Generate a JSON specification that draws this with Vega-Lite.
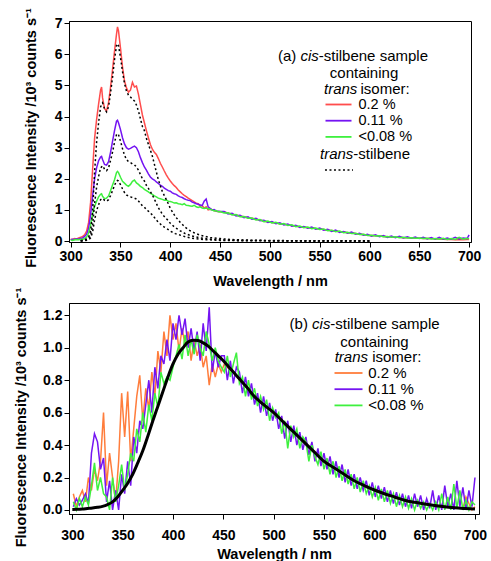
{
"$schema": "https://vega.github.io/schema/vega-lite/v6.json",
"background": "white",
"padding": {"left": 13, "top": 7, "right": 0, "bottom": 0},
"spacing": -2,
"config": {
 "view": {"stroke": "black", "strokeWidth": 1},
 "font": "Liberation Sans",
 "axis": {"labelFont": "Liberation Sans", "labelFontSize": 14, "labelFontWeight": "bold", "labelColor": "black", "titleFont": "Liberation Sans", "titleFontSize": 14.5, "titleFontWeight": "bold", "titleColor": "black", "domainColor": "black", "tickColor": "black", "tickSize": 5, "grid": false, "labelPadding": 2, "labelOverlap": false},
 "axisY": {"tickCount": 8},
 "text": {"font": "Liberation Sans", "color": "black", "baseline": "middle", "align": "left"}
},
"resolve": {"scale": {"color": "independent"}, "legend": {"color": "independent"}},
"datasets": {
 "tc": [
{"w":300,"r":0.06,"p":0.04,"g":0.03},{"w":302,"r":0.05,"p":0.06,"g":0.02},{"w":304,"r":0.08,"p":0.05,"g":0.04},{"w":306,"r":0.07,"p":0.07,"g":0.05},{"w":308,"r":0.1,"p":0.06,"g":0.04},{"w":310,"r":0.12,"p":0.09,"g":0.06},{"w":312,"r":0.15,"p":0.1,"g":0.05},{"w":314,"r":0.2,"p":0.15,"g":0.09},{"w":316,"r":0.32,"p":0.22,"g":0.13},{"w":318,"r":0.6,"p":0.42,"g":0.26},{"w":320,"r":1.25,"p":0.85,"g":0.52},{"w":322,"r":2.3,"p":1.45,"g":0.88},{"w":324,"r":3.3,"p":2.0,"g":1.12},{"w":326,"r":3.9,"p":2.35,"g":1.28},{"w":328,"r":4.4,"p":2.58,"g":1.42},{"w":330,"r":4.85,"p":2.7,"g":1.5},{"w":331,"r":4.95,"p":2.72,"g":1.52},{"w":332,"r":4.6,"p":2.62,"g":1.44},{"w":334,"r":4.25,"p":2.46,"g":1.36},{"w":336,"r":4.18,"p":2.44,"g":1.38},{"w":338,"r":4.45,"p":2.55,"g":1.45},{"w":340,"r":4.95,"p":2.85,"g":1.62},{"w":342,"r":5.5,"p":3.2,"g":1.8},{"w":344,"r":6.1,"p":3.55,"g":1.97},{"w":346,"r":6.65,"p":3.85,"g":2.2},{"w":347,"r":6.88,"p":3.88,"g":2.24},{"w":348,"r":6.75,"p":3.8,"g":2.2},{"w":350,"r":6.2,"p":3.58,"g":2.05},{"w":352,"r":5.6,"p":3.32,"g":1.92},{"w":354,"r":5.15,"p":3.12,"g":1.86},{"w":356,"r":4.92,"p":3.0,"g":1.8},{"w":358,"r":4.78,"p":2.95,"g":1.76},{"w":360,"r":4.85,"p":2.98,"g":1.82},{"w":362,"r":5.1,"p":3.02,"g":1.92},{"w":364,"r":4.95,"p":3.05,"g":1.96},{"w":366,"r":4.98,"p":3.0,"g":1.87},{"w":368,"r":4.72,"p":2.87,"g":1.82},{"w":370,"r":4.38,"p":2.68,"g":1.76},{"w":372,"r":4.05,"p":2.52,"g":1.72},{"w":374,"r":3.8,"p":2.38,"g":1.66},{"w":376,"r":3.55,"p":2.28,"g":1.62},{"w":378,"r":3.32,"p":2.16,"g":1.58},{"w":380,"r":3.1,"p":2.06,"g":1.53},{"w":382,"r":2.95,"p":2.0,"g":1.5},{"w":384,"r":2.85,"p":1.96,"g":1.45},{"w":386,"r":2.78,"p":1.9,"g":1.42},{"w":388,"r":2.65,"p":1.85,"g":1.38},{"w":390,"r":2.5,"p":1.8,"g":1.36},{"w":392,"r":2.38,"p":1.76,"g":1.34},{"w":394,"r":2.25,"p":1.7,"g":1.31},{"w":396,"r":2.13,"p":1.66,"g":1.32},{"w":398,"r":2.02,"p":1.62,"g":1.28},{"w":400,"r":1.93,"p":1.6,"g":1.27},{"w":402,"r":1.85,"p":1.55,"g":1.25},{"w":404,"r":1.78,"p":1.52,"g":1.22},{"w":406,"r":1.72,"p":1.5,"g":1.23},{"w":408,"r":1.64,"p":1.45,"g":1.2},{"w":410,"r":1.58,"p":1.42,"g":1.19},{"w":412,"r":1.52,"p":1.4,"g":1.17},{"w":414,"r":1.47,"p":1.36,"g":1.2},{"w":416,"r":1.43,"p":1.33,"g":1.15},{"w":418,"r":1.38,"p":1.31,"g":1.14},{"w":420,"r":1.34,"p":1.3,"g":1.13},{"w":422,"r":1.3,"p":1.25,"g":1.12},{"w":424,"r":1.26,"p":1.23,"g":1.15},{"w":426,"r":1.22,"p":1.2,"g":1.1},{"w":428,"r":1.2,"p":1.18,"g":1.08},{"w":430,"r":1.12,"p":1.16,"g":1.1},{"w":432,"r":1.14,"p":1.14,"g":1.06},{"w":434,"r":1.06,"p":1.28,"g":1.05},{"w":436,"r":1.1,"p":1.35,"g":1.06},{"w":438,"r":1.0,"p":1.1,"g":1.04},{"w":440,"r":1.02,"p":1.05,"g":1.02},{"w":442,"r":1.01,"p":1.0,"g":1.0},{"w":444,"r":0.98,"p":1.01,"g":0.97},{"w":446,"r":0.96,"p":0.97,"g":0.98},{"w":448,"r":0.95,"p":0.96,"g":0.94},{"w":450,"r":0.94,"p":0.95,"g":0.95},
{"w":454,"r":0.93,"p":0.95,"g":0.9},{"w":458,"r":0.9,"p":0.87,"g":0.91},{"w":462,"r":0.86,"p":0.89,"g":0.84},{"w":466,"r":0.84,"p":0.81,"g":0.85},{"w":470,"r":0.8,"p":0.83,"g":0.78},{"w":474,"r":0.78,"p":0.75,"g":0.79},{"w":478,"r":0.75,"p":0.78,"g":0.73},{"w":482,"r":0.73,"p":0.7,"g":0.74},{"w":486,"r":0.7,"p":0.73,"g":0.68},{"w":490,"r":0.68,"p":0.65,"g":0.69},{"w":494,"r":0.64,"p":0.67,"g":0.62},{"w":498,"r":0.62,"p":0.6,"g":0.64},{"w":502,"r":0.6,"p":0.63,"g":0.58},{"w":506,"r":0.58,"p":0.56,"g":0.6},{"w":510,"r":0.56,"p":0.59,"g":0.54},{"w":514,"r":0.54,"p":0.52,"g":0.56},{"w":518,"r":0.52,"p":0.55,"g":0.5},{"w":522,"r":0.5,"p":0.48,"g":0.52},{"w":526,"r":0.48,"p":0.51,"g":0.46},{"w":530,"r":0.46,"p":0.44,"g":0.48},{"w":534,"r":0.45,"p":0.47,"g":0.43},{"w":538,"r":0.43,"p":0.41,"g":0.45},{"w":542,"r":0.42,"p":0.45,"g":0.4},{"w":546,"r":0.4,"p":0.38,"g":0.42},{"w":550,"r":0.39,"p":0.42,"g":0.37},{"w":554,"r":0.37,"p":0.35,"g":0.39},{"w":558,"r":0.35,"p":0.38,"g":0.33},{"w":562,"r":0.34,"p":0.31,"g":0.35},{"w":566,"r":0.32,"p":0.35,"g":0.3},{"w":570,"r":0.3,"p":0.28,"g":0.32},{"w":574,"r":0.29,"p":0.31,"g":0.27},{"w":578,"r":0.27,"p":0.25,"g":0.28},{"w":582,"r":0.26,"p":0.29,"g":0.24},{"w":586,"r":0.24,"p":0.22,"g":0.25},{"w":590,"r":0.22,"p":0.25,"g":0.21},{"w":594,"r":0.21,"p":0.19,"g":0.22},{"w":598,"r":0.19,"p":0.22,"g":0.18},{"w":602,"r":0.18,"p":0.16,"g":0.19},{"w":606,"r":0.17,"p":0.2,"g":0.16},{"w":610,"r":0.16,"p":0.14,"g":0.17},{"w":614,"r":0.15,"p":0.18,"g":0.14},{"w":618,"r":0.14,"p":0.12,"g":0.15},{"w":622,"r":0.13,"p":0.16,"g":0.12},{"w":626,"r":0.12,"p":0.11,"g":0.14},{"w":630,"r":0.12,"p":0.15,"g":0.11},{"w":634,"r":0.11,"p":0.1,"g":0.12},{"w":638,"r":0.11,"p":0.14,"g":0.1},{"w":642,"r":0.1,"p":0.09,"g":0.11},{"w":646,"r":0.1,"p":0.13,"g":0.09},{"w":650,"r":0.09,"p":0.08,"g":0.1},{"w":654,"r":0.08,"p":0.12,"g":0.08},{"w":658,"r":0.08,"p":0.07,"g":0.09},{"w":662,"r":0.08,"p":0.11,"g":0.07},{"w":666,"r":0.07,"p":0.06,"g":0.08},{"w":670,"r":0.07,"p":0.12,"g":0.06},{"w":674,"r":0.06,"p":0.06,"g":0.09},{"w":678,"r":0.05,"p":0.1,"g":0.05},{"w":682,"r":0.05,"p":0.06,"g":0.08},{"w":686,"r":0.04,"p":0.12,"g":0.05},{"w":690,"r":0.05,"p":0.07,"g":0.12},{"w":694,"r":0.04,"p":0.1,"g":0.06},{"w":698,"r":0.05,"p":0.08,"g":0.09},{"w":700,"r":0.05,"p":0.2,"g":0.07}
 ],
 "td": [
{"w":310,"a":0.01,"b":0.01,"c":0.0},{"w":314,"a":0.03,"b":0.02,"c":0.01},{"w":318,"a":0.13,"b":0.07,"c":0.04},{"w":320,"a":0.32,"b":0.17,"c":0.1},{"w":322,"a":0.95,"b":0.52,"c":0.29},{"w":324,"a":2.22,"b":1.21,"c":0.68},{"w":326,"a":3.17,"b":1.73,"c":0.98},{"w":328,"a":3.8,"b":2.07,"c":1.17},{"w":330,"a":4.31,"b":2.35,"c":1.33},{"w":332,"a":4.44,"b":2.42,"c":1.37},{"w":334,"a":4.25,"b":2.31,"c":1.31},{"w":336,"a":4.15,"b":2.26,"c":1.28},{"w":338,"a":4.31,"b":2.35,"c":1.33},{"w":340,"a":4.76,"b":2.59,"c":1.46},{"w":342,"a":5.26,"b":2.86,"c":1.62},{"w":344,"a":5.83,"b":3.17,"c":1.79},{"w":346,"a":6.28,"b":3.42,"c":1.93},{"w":347,"a":6.34,"b":3.45,"c":1.95},{"w":348,"a":6.28,"b":3.42,"c":1.93},{"w":350,"a":5.9,"b":3.21,"c":1.81},{"w":352,"a":5.45,"b":2.97,"c":1.68},{"w":354,"a":5.07,"b":2.76,"c":1.56},{"w":356,"a":4.82,"b":2.62,"c":1.48},{"w":358,"a":4.69,"b":2.55,"c":1.44},{"w":360,"a":4.63,"b":2.52,"c":1.42},{"w":362,"a":4.56,"b":2.48,"c":1.4},{"w":364,"a":4.5,"b":2.45,"c":1.38},{"w":366,"a":4.37,"b":2.38,"c":1.35},{"w":368,"a":4.18,"b":2.28,"c":1.29},{"w":370,"a":3.93,"b":2.14,"c":1.21},{"w":372,"a":3.68,"b":2.0,"c":1.13},{"w":374,"a":3.55,"b":1.93,"c":1.09},{"w":376,"a":3.3,"b":1.79,"c":1.01},{"w":378,"a":3.11,"b":1.69,"c":0.96},{"w":380,"a":2.92,"b":1.59,"c":0.9},{"w":382,"a":2.73,"b":1.48,"c":0.84},{"w":384,"a":2.47,"b":1.35,"c":0.76},{"w":386,"a":2.22,"b":1.21,"c":0.68},{"w":388,"a":1.97,"b":1.07,"c":0.6},{"w":390,"a":1.78,"b":0.97,"c":0.55},{"w":392,"a":1.59,"b":0.86,"c":0.49},{"w":394,"a":1.46,"b":0.79,"c":0.45},{"w":396,"a":1.33,"b":0.72,"c":0.41},{"w":398,"a":1.2,"b":0.66,"c":0.37},{"w":400,"a":1.05,"b":0.57,"c":0.32},{"w":405,"a":0.79,"b":0.43,"c":0.24},{"w":410,"a":0.6,"b":0.33,"c":0.19},{"w":415,"a":0.44,"b":0.24,"c":0.14},{"w":420,"a":0.33,"b":0.18,"c":0.1},{"w":425,"a":0.25,"b":0.14,"c":0.08},{"w":430,"a":0.19,"b":0.1,"c":0.06},{"w":435,"a":0.15,"b":0.08,"c":0.04},{"w":440,"a":0.11,"b":0.06,"c":0.04},{"w":450,"a":0.08,"b":0.04,"c":0.02},{"w":460,"a":0.05,"b":0.03,"c":0.016},{"w":470,"a":0.04,"b":0.02,"c":0.012},{"w":480,"a":0.03,"b":0.02,"c":0.01},{"w":500,"a":0.02,"b":0.01,"c":0.006},{"w":520,"a":0.013,"b":0.007,"c":0.004},{"w":550,"a":0.01,"b":0.005,"c":0.004},{"w":600,"a":0.006,"b":0.003,"c":0.002}
 ],
 "bc": [
{"w":301,"o":0.1,"p":0.02,"g":0.05},{"w":304,"o":0.02,"p":0.07,"g":0.0},{"w":307,"o":0.08,"p":0.03,"g":0.07},{"w":310,"o":0.12,"p":0.06,"g":0.02},{"w":313,"o":0.05,"p":0.1,"g":0.08},{"w":316,"o":0.2,"p":0.04,"g":0.03},{"w":319,"o":0.12,"p":0.35,"g":0.15},{"w":322,"o":0.25,"p":0.47,"g":0.29},{"w":325,"o":0.18,"p":0.42,"g":0.12},{"w":328,"o":0.3,"p":0.25,"g":0.2},{"w":331,"o":0.6,"p":0.32,"g":0.1},{"w":334,"o":0.15,"p":0.05,"g":0.08},{"w":337,"o":0.35,"p":0.18,"g":0.0},{"w":340,"o":0.2,"p":0.0,"g":0.2},{"w":343,"o":0.05,"p":0.12,"g":0.05},{"w":346,"o":0.3,"p":0.0,"g":0.15},{"w":349,"o":0.72,"p":0.22,"g":0.28},{"w":352,"o":0.45,"p":0.1,"g":0.12},{"w":355,"o":0.73,"p":0.3,"g":0.22},{"w":358,"o":0.3,"p":0.15,"g":0.35},{"w":361,"o":0.5,"p":0.45,"g":0.3},{"w":364,"o":0.7,"p":0.35,"g":0.5},{"w":367,"o":0.83,"p":0.55,"g":0.42},{"w":370,"o":0.55,"p":0.5,"g":0.6},{"w":373,"o":0.75,"p":0.65,"g":0.48},{"w":376,"o":0.62,"p":0.8,"g":0.65},{"w":379,"o":0.85,"p":0.6,"g":0.55},{"w":382,"o":0.7,"p":0.88,"g":0.72},{"w":385,"o":0.98,"p":0.75,"g":0.63},{"w":388,"o":0.85,"p":0.95,"g":0.85},{"w":391,"o":1.1,"p":0.9,"g":0.78},{"w":394,"o":0.95,"p":1.05,"g":0.82},{"w":397,"o":1.2,"p":0.92,"g":0.8},{"w":400,"o":1.05,"p":1.15,"g":0.88},{"w":403,"o":1.15,"p":1.05,"g":0.95},{"w":406,"o":0.98,"p":1.2,"g":1.02},{"w":409,"o":1.12,"p":1.08,"g":0.93},{"w":412,"o":1.02,"p":1.18,"g":1.08},{"w":415,"o":1.1,"p":1.0,"g":0.95},{"w":418,"o":0.92,"p":1.12,"g":1.05},{"w":421,"o":1.05,"p":0.98,"g":0.96},{"w":424,"o":0.95,"p":1.1,"g":1.08},{"w":427,"o":1.02,"p":0.92,"g":1.0},{"w":430,"o":0.88,"p":1.15,"g":0.95},{"w":433,"o":0.95,"p":0.98,"g":1.1},{"w":436,"o":0.77,"p":1.25,"g":1.02},{"w":439,"o":0.9,"p":0.85,"g":0.92},{"w":442,"o":0.82,"p":0.98,"g":1.0},{"w":445,"o":0.9,"p":0.88,"g":0.92},{"w":448,"o":0.85,"p":0.95,"g":0.88},
{"w":451,"o":0.9,"p":0.95,"g":0.85},{"w":454,"o":0.88,"p":0.8,"g":0.95},{"w":457,"o":0.86,"p":0.92,"g":0.82},{"w":460,"o":0.85,"p":0.78,"g":0.9},{"w":463,"o":0.83,"p":0.88,"g":0.97},{"w":466,"o":0.8,"p":0.85,"g":0.78},{"w":469,"o":0.79,"p":0.72,"g":0.82},{"w":472,"o":0.76,"p":0.82,"g":0.7},{"w":475,"o":0.74,"p":0.7,"g":0.8},{"w":478,"o":0.72,"p":0.78,"g":0.68},{"w":481,"o":0.7,"p":0.65,"g":0.75},{"w":484,"o":0.68,"p":0.72,"g":0.64},{"w":487,"o":0.67,"p":0.6,"g":0.7},{"w":490,"o":0.65,"p":0.7,"g":0.62},{"w":493,"o":0.63,"p":0.58,"g":0.68},{"w":496,"o":0.62,"p":0.66,"g":0.55},{"w":499,"o":0.6,"p":0.55,"g":0.63},{"w":502,"o":0.59,"p":0.62,"g":0.57},{"w":505,"o":0.57,"p":0.5,"g":0.6},{"w":508,"o":0.55,"p":0.58,"g":0.47},{"w":511,"o":0.53,"p":0.44,"g":0.55},{"w":514,"o":0.52,"p":0.55,"g":0.38},{"w":517,"o":0.5,"p":0.42,"g":0.52},{"w":520,"o":0.48,"p":0.52,"g":0.45},{"w":523,"o":0.46,"p":0.4,"g":0.5},{"w":526,"o":0.44,"p":0.48,"g":0.38},{"w":529,"o":0.43,"p":0.37,"g":0.45},{"w":532,"o":0.41,"p":0.45,"g":0.42},{"w":535,"o":0.39,"p":0.34,"g":0.3},{"w":538,"o":0.37,"p":0.42,"g":0.4},{"w":541,"o":0.36,"p":0.3,"g":0.33},{"w":544,"o":0.34,"p":0.38,"g":0.28},{"w":547,"o":0.32,"p":0.27,"g":0.36},{"w":550,"o":0.3,"p":0.35,"g":0.25},{"w":553,"o":0.29,"p":0.25,"g":0.32},{"w":556,"o":0.28,"p":0.33,"g":0.22},{"w":559,"o":0.26,"p":0.22,"g":0.3},{"w":562,"o":0.25,"p":0.3,"g":0.2},{"w":565,"o":0.24,"p":0.2,"g":0.27},{"w":568,"o":0.23,"p":0.28,"g":0.18},{"w":571,"o":0.22,"p":0.17,"g":0.25},{"w":574,"o":0.2,"p":0.25,"g":0.16},{"w":577,"o":0.19,"p":0.15,"g":0.22},{"w":580,"o":0.18,"p":0.22,"g":0.13},{"w":583,"o":0.17,"p":0.13,"g":0.2},{"w":586,"o":0.16,"p":0.2,"g":0.11},{"w":589,"o":0.15,"p":0.12,"g":0.18},{"w":592,"o":0.14,"p":0.18,"g":0.1},{"w":595,"o":0.13,"p":0.09,"g":0.15},{"w":598,"o":0.13,"p":0.17,"g":0.08},{"w":601,"o":0.12,"p":0.08,"g":0.14},{"w":604,"o":0.11,"p":0.15,"g":0.06},{"w":607,"o":0.1,"p":0.07,"g":0.13},{"w":610,"o":0.1,"p":0.14,"g":0.05},{"w":613,"o":0.09,"p":0.05,"g":0.12},{"w":616,"o":0.09,"p":0.12,"g":0.04},{"w":619,"o":0.08,"p":0.04,"g":0.1},{"w":622,"o":0.07,"p":0.11,"g":0.02},{"w":625,"o":0.07,"p":0.03,"g":0.09},{"w":628,"o":0.06,"p":0.1,"g":0.02},{"w":631,"o":0.06,"p":0.02,"g":0.08},{"w":634,"o":0.05,"p":0.09,"g":0.01},{"w":637,"o":0.05,"p":0.01,"g":0.07},{"w":640,"o":0.05,"p":0.1,"g":0.0},{"w":643,"o":0.04,"p":0.02,"g":0.06},{"w":646,"o":0.04,"p":0.09,"g":0.01},{"w":649,"o":0.04,"p":0.0,"g":0.05},{"w":652,"o":0.04,"p":0.07,"g":0.0},{"w":655,"o":0.03,"p":0.01,"g":0.04},{"w":658,"o":0.03,"p":0.12,"g":0.0},{"w":661,"o":0.03,"p":0.0,"g":0.05},{"w":664,"o":0.02,"p":0.09,"g":0.0},{"w":667,"o":0.02,"p":0.0,"g":0.1},{"w":670,"o":0.02,"p":0.15,"g":0.0},{"w":673,"o":0.02,"p":0.02,"g":0.08},{"w":676,"o":0.02,"p":0.1,"g":0.0},{"w":679,"o":0.01,"p":0.0,"g":0.16},{"w":682,"o":0.01,"p":0.18,"g":0.01},{"w":685,"o":0.01,"p":0.02,"g":0.12},{"w":688,"o":0.01,"p":0.14,"g":0.0},{"w":691,"o":0.08,"p":0.0,"g":0.06},{"w":694,"o":0.04,"p":0.12,"g":0.0},{"w":697,"o":0.0,"p":0.02,"g":0.05},{"w":700,"o":0.02,"p":0.2,"g":0.03}
 ],
 "bf": [
{"w":300,"f":0.003},{"w":305,"f":0.004},{"w":310,"f":0.006},{"w":315,"f":0.009},{"w":320,"f":0.012},{"w":325,"f":0.016},{"w":330,"f":0.022},{"w":335,"f":0.033},{"w":340,"f":0.05},{"w":345,"f":0.08},{"w":350,"f":0.12},{"w":355,"f":0.165},{"w":360,"f":0.22},{"w":365,"f":0.29},{"w":370,"f":0.365},{"w":375,"f":0.455},{"w":380,"f":0.55},{"w":385,"f":0.64},{"w":390,"f":0.73},{"w":395,"f":0.82},{"w":400,"f":0.9},{"w":405,"f":0.96},{"w":410,"f":1.0},{"w":415,"f":1.035},{"w":420,"f":1.046},{"w":425,"f":1.045},{"w":430,"f":1.03},{"w":435,"f":1.01},{"w":440,"f":0.98},{"w":445,"f":0.95},{"w":450,"f":0.92},{"w":455,"f":0.885},{"w":460,"f":0.85},{"w":465,"f":0.815},{"w":470,"f":0.78},{"w":475,"f":0.745},{"w":480,"f":0.705},{"w":485,"f":0.675},{"w":490,"f":0.65},{"w":495,"f":0.625},{"w":500,"f":0.6},{"w":510,"f":0.54},{"w":520,"f":0.48},{"w":530,"f":0.42},{"w":540,"f":0.36},{"w":550,"f":0.3},{"w":560,"f":0.26},{"w":570,"f":0.22},{"w":580,"f":0.18},{"w":590,"f":0.15},{"w":600,"f":0.123},{"w":610,"f":0.1},{"w":620,"f":0.08},{"w":630,"f":0.06},{"w":640,"f":0.047},{"w":650,"f":0.037},{"w":660,"f":0.028},{"w":670,"f":0.02},{"w":680,"f":0.013},{"w":690,"f":0.009},{"w":700,"f":0.006}
 ]
},
"vconcat": [
 {
  "width": 402, "height": 221,
  "layer": [
   {"data": {"name": "tc"}, "transform": [{"fold": ["r","p","g"], "as": ["s","v"]}],
    "mark": {"type": "line", "strokeWidth": 1.5},
    "encoding": {
     "x": {"field": "w", "type": "quantitative", "scale": {"domain": [298.3, 701.9], "nice": false, "zero": false},
       "axis": {"values": [300,350,400,450,500,550,600,650,700], "title": "Wavelength / nm", "titlePadding": 11, "labelPadding": 2}},
     "y": {"field": "v", "type": "quantitative", "scale": {"domain": [-0.03, 7.07], "nice": false, "zero": false},
       "axis": {"values": [0,1,2,3,4,5,6,7], "format": "d", "title": "Fluorescence Intensity /10³ counts s⁻¹", "titlePadding": 16, "titleY": 116.5}},
     "color": {"field": "s", "type": "nominal", "scale": {"domain": ["r","p","g"], "range": ["#ff4d4d","#7414f2","#3ef03e"]},
       "legend": {"orient": "none", "legendX": 262, "legendY": 76, "title": null, "symbolType": "M-2,0H2", "symbolSize": 169, "symbolStrokeWidth": 1.8, "labelFont": "Liberation Sans", "labelFontSize": 14.5, "labelColor": "black", "labelOffset": 12.5, "rowPadding": 1.2, "padding": 0,
         "labelExpr": "datum.label == 'r' ? '0.2 %' : datum.label == 'p' ? '0.11 %' : '<0.08 %'"}}
    }},
   {"data": {"name": "td"}, "transform": [{"fold": ["a","b","c"], "as": ["k","v"]}],
    "mark": {"type": "line", "color": "black", "strokeWidth": 1.5, "strokeDash": [2, 2.5]},
    "encoding": {"x": {"field": "w", "type": "quantitative"}, "y": {"field": "v", "type": "quantitative"}, "detail": {"field": "k", "type": "nominal"}}},
   {"data": {"values": [{}]}, "mark": {"type": "text", "text": "(a) ", "fontSize": 15}, "encoding": {"x": {"datum": 508.1}, "y": {"datum": 5.95}}},
   {"data": {"values": [{}]}, "mark": {"type": "text", "text": "cis", "fontSize": 15, "fontStyle": "italic", "dx": 22.5}, "encoding": {"x": {"datum": 508.1}, "y": {"datum": 5.95}}},
   {"data": {"values": [{}]}, "mark": {"type": "text", "text": "-stilbene sample", "fontSize": 15, "dx": 40.8}, "encoding": {"x": {"datum": 508.1}, "y": {"datum": 5.95}}},
   {"data": {"values": [{}]}, "mark": {"type": "text", "text": "containing", "fontSize": 15, "align": "center"}, "encoding": {"x": {"datum": 594.5}, "y": {"datum": 5.41}}},
   {"data": {"values": [{}]}, "mark": {"type": "text", "text": "trans", "fontSize": 15, "fontStyle": "italic"}, "encoding": {"x": {"datum": 554.3}, "y": {"datum": 4.89}}},
   {"data": {"values": [{}]}, "mark": {"type": "text", "text": "isomer:", "fontSize": 15, "dx": 36.5}, "encoding": {"x": {"datum": 554.3}, "y": {"datum": 4.89}}},
   {"data": {"values": [{}]}, "mark": {"type": "text", "text": "trans", "fontSize": 15, "fontStyle": "italic"}, "encoding": {"x": {"datum": 550.3}, "y": {"datum": 2.8}}},
   {"data": {"values": [{}]}, "mark": {"type": "text", "text": "-stilbene", "fontSize": 15, "dx": 33.3}, "encoding": {"x": {"datum": 550.3}, "y": {"datum": 2.8}}},
   {"data": {"values": [{}]}, "mark": {"type": "rule", "color": "black", "strokeWidth": 1.5, "strokeDash": [2, 2.5]}, "encoding": {"x": {"datum": 555.3}, "x2": {"datum": 583.4}, "y": {"datum": 2.28}}}
  ]
 },
 {
  "width": 410, "height": 211,
  "layer": [
   {"data": {"name": "bc"}, "transform": [{"fold": ["o","p","g"], "as": ["s","v"]}],
    "mark": {"type": "line", "strokeWidth": 1.5},
    "encoding": {
     "x": {"field": "w", "type": "quantitative", "scale": {"domain": [296.7, 704], "nice": false, "zero": false},
       "axis": {"values": [300,350,400,450,500,550,600,650,700], "title": "Wavelength / nm", "titlePadding": 5, "labelPadding": 9}},
     "y": {"field": "v", "type": "quantitative", "scale": {"domain": [-0.025, 1.276], "nice": false, "zero": false},
       "axis": {"values": [0,0.2,0.4,0.6,0.8,1.0,1.2], "format": ".1f", "title": "Fluorescence Intensity /10³ counts s⁻¹", "titlePadding": 14, "titleY": 114}},
     "color": {"field": "s", "type": "nominal", "scale": {"domain": ["o","p","g"], "range": ["#ff7d3c","#7414f2","#3ef03e"]},
       "legend": {"orient": "none", "legendX": 271.5, "legendY": 62, "title": null, "symbolType": "M-2,0H2", "symbolSize": 196, "symbolStrokeWidth": 1.8, "labelFont": "Liberation Sans", "labelFontSize": 15, "labelColor": "black", "labelOffset": 11.7, "rowPadding": 0.2, "padding": 0,
         "labelExpr": "datum.label == 'o' ? '0.2 %' : datum.label == 'p' ? '0.11 %' : '<0.08 %'"}}
    }},
   {"data": {"name": "bf"}, "mark": {"type": "line", "color": "black", "strokeWidth": 3, "interpolate": "monotone"},
    "encoding": {"x": {"field": "w", "type": "quantitative"}, "y": {"field": "f", "type": "quantitative"}}},
   {"data": {"values": [{}]}, "mark": {"type": "text", "text": "(b) ", "fontSize": 15}, "encoding": {"x": {"datum": 515.8}, "y": {"datum": 1.147}}},
   {"data": {"values": [{}]}, "mark": {"type": "text", "text": "cis", "fontSize": 15, "fontStyle": "italic", "dx": 22.5}, "encoding": {"x": {"datum": 515.8}, "y": {"datum": 1.147}}},
   {"data": {"values": [{}]}, "mark": {"type": "text", "text": "-stilbene sample", "fontSize": 15, "dx": 40.8}, "encoding": {"x": {"datum": 515.8}, "y": {"datum": 1.147}}},
   {"data": {"values": [{}]}, "mark": {"type": "text", "text": "containing", "fontSize": 15, "align": "center"}, "encoding": {"x": {"datum": 600.2}, "y": {"datum": 1.0375}}},
   {"data": {"values": [{}]}, "mark": {"type": "text", "text": "trans", "fontSize": 15, "fontStyle": "italic"}, "encoding": {"x": {"datum": 560.6}, "y": {"datum": 0.943}}},
   {"data": {"values": [{}]}, "mark": {"type": "text", "text": "isomer:", "fontSize": 15, "dx": 37.5}, "encoding": {"x": {"datum": 560.6}, "y": {"datum": 0.943}}}
  ]
 }
]
}
